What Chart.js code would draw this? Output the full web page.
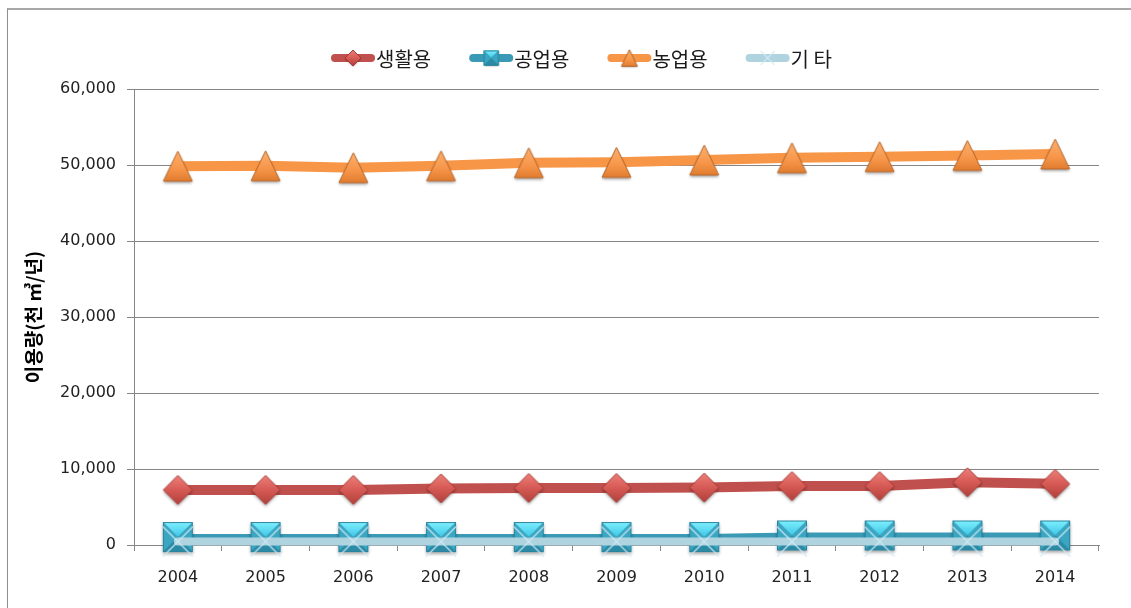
<!DOCTYPE html>
<html>
<head>
<meta charset="utf-8">
<script src="https://cdn.jsdelivr.net/npm/chart.js@4/dist/chart.umd.min.js"></script>
<style>
  html, body { margin: 0; padding: 0; background: #fff; overflow: hidden; }
  #frame { position: absolute; left: 7px; top: 8px; width: 1200px; height: 700px;
           border-left: 1px solid #8f8f8f; border-top: 2px solid #a8a8a8; }
  #c { position: absolute; left: 0; top: 0; }
</style>
</head>
<body>
<div id="frame"></div>
<canvas id="c" width="1131" height="608"></canvas>
<script>
// ---- data ----
const years = ['2004','2005','2006','2007','2008','2009','2010','2011','2012','2013','2014'];
const seriesNames = ['생활용', '공업용', '농업용', '기 타'];
const domestic    = [7250, 7250, 7250, 7450, 7500, 7500, 7550, 7750, 7750, 8250, 8050];
const industrial  = [1050, 1050, 1050, 1050, 1050, 1050, 1050, 1250, 1250, 1250, 1250];
const agricultural= [49850, 49900, 49650, 49900, 50300, 50350, 50650, 50950, 51100, 51250, 51450];
const others      = [450, 450, 450, 450, 450, 450, 450, 450, 450, 450, 450];
const yTicks = [0, 10000, 20000, 30000, 40000, 50000, 60000];
const yTitle = '이용량(천 ㎥/년)';

// ---- marker images ----
function mk(w, h, fn) {
  const c = document.createElement('canvas');
  c.width = w; c.height = h;
  fn(c.getContext('2d'), w, h);
  return c;
}
function diamond(s) {
  const r = 14.5 * s, pad = 5 * s;
  const W = Math.ceil(2 * r + 2 * pad), H = W;
  return mk(W, H, (g, w, h) => {
    const cx = w / 2, cy = h / 2;
    g.save();
    g.shadowColor = 'rgba(0,0,0,0.35)'; g.shadowBlur = 3 * s; g.shadowOffsetY = 2 * s;
    g.beginPath(); g.moveTo(cx, cy - r); g.lineTo(cx + r, cy); g.lineTo(cx, cy + r); g.lineTo(cx - r, cy); g.closePath();
    const gr = g.createLinearGradient(0, cy - r, 0, cy + r);
    gr.addColorStop(0, '#ee7f79'); gr.addColorStop(0.5, '#d65a55'); gr.addColorStop(1, '#b2403b');
    g.fillStyle = gr; g.fill();
    g.restore();
    g.strokeStyle = '#a63a35'; g.lineWidth = 1; g.stroke();
  });
}
function square(s) {
  const r = 15 * s, pad = 5 * s;
  const W = Math.ceil(2 * r + 2 * pad), H = W;
  return mk(W, H, (g, w, h) => {
    const cx = w / 2, cy = h / 2;
    const x0 = cx - r, y0 = cy - r, x1 = cx + r, y1 = cy + r;
    g.save();
    g.shadowColor = 'rgba(0,0,0,0.35)'; g.shadowBlur = 3 * s; g.shadowOffsetY = 2 * s;
    g.fillStyle = '#3299b4'; g.fillRect(x0, y0, 2 * r, 2 * r);
    g.restore();
    const tri = (pts, col) => { g.beginPath(); g.moveTo(pts[0], pts[1]); g.lineTo(pts[2], pts[3]); g.lineTo(pts[4], pts[5]); g.closePath(); g.fillStyle = col; g.fill(); };
    const gt = g.createLinearGradient(0, y0, 0, cy);
    gt.addColorStop(0, '#7ef0ff'); gt.addColorStop(1, '#3fc6e6');
    tri([x0, y0, x1, y0, cx, cy], gt);
    tri([x0, y0, cx, cy, x0, y1], '#3aa6c2');
    tri([x1, y0, cx, cy, x1, y1], '#3aa6c2');
    tri([x0, y1, x1, y1, cx, cy], '#2b8aa5');
    g.strokeStyle = '#2a849e'; g.lineWidth = 1; g.strokeRect(x0 + 0.5, y0 + 0.5, 2 * r - 1, 2 * r - 1);
  });
}
function triangle(s) {
  const hw = 14.5 * s, hh = 15 * s, pad = 5 * s;
  const W = Math.ceil(2 * hw + 2 * pad), H = Math.ceil(2 * hh + 2 * pad);
  return mk(W, H, (g, w, h) => {
    const cx = w / 2, cy = h / 2;
    g.save();
    g.shadowColor = 'rgba(0,0,0,0.35)'; g.shadowBlur = 3 * s; g.shadowOffsetY = 2 * s;
    g.beginPath(); g.moveTo(cx, cy - hh); g.lineTo(cx + hw, cy + hh); g.lineTo(cx - hw, cy + hh); g.closePath();
    const gr = g.createLinearGradient(0, cy - hh, 0, cy + hh);
    gr.addColorStop(0, '#fbb06e'); gr.addColorStop(0.6, '#f7964a'); gr.addColorStop(1, '#e07c2e');
    g.fillStyle = gr; g.fill();
    g.restore();
    g.strokeStyle = '#b9682c'; g.lineWidth = 1; g.stroke();
  });
}
function xmark(s) {
  const r = 15 * s, pad = 3;
  const W = Math.ceil(2 * r + 2 * pad);
  return mk(W, W, (g, w, h) => {
    const cx = w / 2, cy = h / 2;
    g.strokeStyle = 'rgba(205,235,245,0.95)'; g.lineWidth = 1.2;
    g.beginPath(); g.moveTo(cx - r, cy - r); g.lineTo(cx + r, cy + r);
    g.moveTo(cx + r, cy - r); g.lineTo(cx - r, cy + r); g.stroke();
  });
}

const imgs = [diamond(1), square(1), triangle(1), xmark(1)];
const legendImgs = [diamond(0.55), square(0.5), triangle(0.55), xmark(0.45)];
const lineColors = ['#c0504d', '#3a9ab5', '#f79646', '#afd3df'];
const lineWidths = [10, 6, 10, 8];

// ---- custom legend (line sample + marker + text) ----
const legendPlugin = {
  id: 'excelLegend',
  afterDraw(chart) {
    const g = chart.ctx;
    const y = 58;
    let x = 331;
    g.save();
    g.font = '20px "Noto Sans CJK KR"';
    g.textBaseline = 'middle';
    g.textAlign = 'left';
    chart.data.datasets.forEach((ds, i) => {
      const L = 44;
      g.strokeStyle = lineColors[i]; g.lineWidth = 8; g.lineCap = 'round';
      g.beginPath(); g.moveTo(x + 4, y); g.lineTo(x + L - 4, y); g.stroke();
      const im = legendImgs[i];
      g.drawImage(im, x + L / 2 - im.width / 2, y - im.height / 2);
      g.fillStyle = '#1a1a1a';
      g.fillText(ds.label, x + L + 1, y + 1);
      x += L + 1 + g.measureText(ds.label).width + 38;
    });
    g.restore();
  }
};

const mkDs = (i, data, order) => ({
  label: seriesNames[i],
  data: data,
  borderColor: lineColors[i],
  backgroundColor: lineColors[i],
  borderWidth: lineWidths[i],
  borderCapStyle: 'round',
  borderJoinStyle: 'round',
  tension: 0,
  pointStyle: imgs[i],
  pointRadius: 15,
  pointHoverRadius: 15,
  clip: false,
  order: order
});

new Chart(document.getElementById('c'), {
  type: 'line',
  data: {
    labels: years,
    datasets: [
      mkDs(0, domestic, 2),
      mkDs(1, industrial, 3),
      mkDs(2, agricultural, 4),
      mkDs(3, others, 1)
    ]
  },
  options: {
    responsive: false,
    devicePixelRatio: 1,
    animation: false,
    layout: { padding: { left: 19, right: 32, top: 89, bottom: 0 } },
    plugins: { legend: { display: false }, tooltip: { enabled: false }, title: { display: false } },
    scales: {
      x: {
        offset: true,
        afterFit: s => { s.height = 63; },
        grid: { display: true, drawOnChartArea: false, offset: true, tickLength: 6, color: '#868686' },
        border: { display: true, color: '#868686', width: 1 },
        ticks: { padding: 17, color: '#222', font: { family: 'DejaVu Sans', size: 16 }, maxRotation: 0 }
      },
      y: {
        min: 0, max: 60000,
        afterFit: s => { s.width = 115; },
        afterBuildTicks: s => { s.ticks = yTicks.map(v => ({ value: v })); },
        grid: { color: '#868686', tickLength: 7, drawTicks: true },
        border: { display: true, color: '#868686', width: 1 },
        ticks: {
          padding: 11, color: '#222', font: { family: 'DejaVu Sans', size: 16 },
          callback: v => v.toLocaleString('en-US')
        },
        title: {
          display: true, text: yTitle, color: '#000',
          font: { family: 'Noto Sans CJK KR', size: 19, weight: 'bold' },
          padding: { top: 3, bottom: 4 }
        }
      }
    }
  },
  plugins: [legendPlugin]
});
</script>
</body>
</html>
